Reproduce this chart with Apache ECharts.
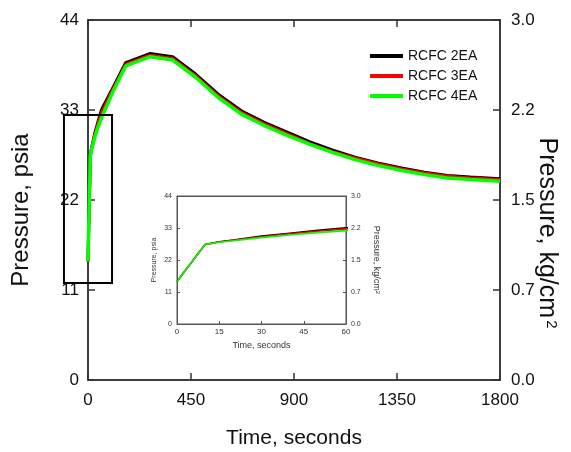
<!DOCTYPE html>
<html>
<head>
<meta charset="utf-8">
<script src="https://cdn.jsdelivr.net/npm/echarts@6/dist/echarts.min.js"></script>
<style>
html,body{margin:0;padding:0;background:#fff;}
#c{width:571px;height:452px;}
</style>
</head>
<body>
<div id="c"></div>
<script>
// ---- data ----
var time = [0, 2.5, 5, 7.5, 10, 15, 20, 30, 40, 50, 60, 110, 165, 270, 370, 470, 570, 670, 770, 870, 970, 1070, 1170, 1270, 1370, 1470, 1570, 1670, 1800];
var rcfc2 = [14.5, 17.9, 21.0, 24.2, 27.3, 28.3, 28.9, 30.2, 31.2, 32.2, 33.1, 35.8, 38.8, 39.9, 39.5, 37.4, 34.9, 32.9, 31.5, 30.3, 29.1, 28.1, 27.2, 26.5, 25.9, 25.4, 25.0, 24.8, 24.6];
var rcfc3 = [14.5, 17.9, 21.0, 24.2, 27.3, 28.2, 28.8, 30.0, 31.0, 31.9, 32.7, 35.6, 38.6, 39.7, 39.3, 37.2, 34.7, 32.7, 31.3, 30.1, 28.9, 27.9, 27.1, 26.4, 25.8, 25.3, 24.9, 24.7, 24.5];
var rcfc4 = [14.5, 17.9, 21.0, 24.2, 27.3, 28.1, 28.6, 29.7, 30.6, 31.4, 32.1, 35.3, 38.4, 39.5, 39.1, 37.0, 34.5, 32.5, 31.1, 29.9, 28.8, 27.8, 26.9, 26.2, 25.6, 25.1, 24.7, 24.5, 24.3];
var seriesNames = ['RCFC 2EA', 'RCFC 3EA', 'RCFC 4EA'];
var kgLabels = ['0.0', '0.7', '1.5', '2.2', '3.0'];
var psiTicks = [0, 11, 22, 33, 44];
// zoom box drawn around the start of the transient (data coords: time, psia)
var boxTime = [-105, 105];
var boxPsia = [11.85, 32.4];

function pairs(ys) { return time.map(function (t, i) { return [t, ys[i]]; }); }

var FONT = 'Liberation Sans, Arial, sans-serif';
var AX = '#333';
var colors = ['#000000', '#ff0000', '#00ff00'];
var widths = [3, 3, 3.5];
var data = [rcfc2, rcfc3, rcfc4];

function kgFmt(v) { var i = psiTicks.indexOf(v); return i >= 0 ? kgLabels[i] : ''; }
function plainFmt(v) { return String(v); }

var series = [];
for (var k = 0; k < 3; k++) {
  series.push({
    name: seriesNames[k], type: 'line', xAxisIndex: 0, yAxisIndex: 0,
    data: pairs(data[k]), showSymbol: false, symbol: 'none',
    lineStyle: { color: colors[k], width: widths[k] }, itemStyle: { color: colors[k] },
    z: 2 + k, animation: false
  });
}
for (var k2 = 0; k2 < 3; k2++) {
  series.push({
    name: seriesNames[k2], type: 'line', xAxisIndex: 2, yAxisIndex: 2,
    data: pairs(data[k2]), showSymbol: false, symbol: 'none', clip: true,
    lineStyle: { color: colors[k2], width: 1.6 }, itemStyle: { color: colors[k2] },
    z: 12 + k2, animation: false
  });
}

// inward ticks: negative length pointing into the plot
function tick(len, col, w) { return { show: true, inside: false, length: -len, lineStyle: { color: col || AX, width: w || 1.5 } }; }
function mainLine() { return { show: true, onZero: false, lineStyle: { color: AX, width: 1.5 } }; }
function insetLine() { return { show: true, onZero: false, lineStyle: { color: '#555', width: 1 } }; }
function mainLbl(m, f) { return { margin: m, formatter: f, fontFamily: FONT, fontSize: 17, color: '#111' }; }
function insetLbl(m, f, s) { return { margin: m, formatter: f, fontFamily: FONT, fontSize: s || 7, color: '#333' }; }

var option = {
  backgroundColor: '#fff',
  animation: false,
  legend: {
    data: seriesNames, orient: 'vertical', left: 365, top: 44,
    itemWidth: 33, itemHeight: 4, itemGap: 6, icon: 'rect',
    textStyle: { fontFamily: FONT, fontSize: 14, color: '#111' }
  },
  grid: [
    { left: 88, right: 71, top: 20, bottom: 72, show: true, borderColor: AX, borderWidth: 1.5, outerBoundsMode: 'none', containLabel: false },
    { left: 177, top: 196, width: 169, height: 128, show: true, borderColor: '#555', borderWidth: 1, backgroundColor: '#fff', outerBoundsMode: 'none', containLabel: false }
  ],
  xAxis: [
    { gridIndex: 0, type: 'value', min: 0, max: 1800, interval: 450, position: 'bottom',
      axisLine: mainLine(), axisTick: tick(7), splitLine: { show: false },
      axisLabel: mainLbl(12, plainFmt),
      name: 'Time, seconds', nameLocation: 'middle', nameGap: 48,
      nameTextStyle: { fontFamily: FONT, fontSize: 21, color: '#111' } },
    { gridIndex: 0, type: 'value', min: 0, max: 1800, interval: 450, position: 'top',
      axisLine: mainLine(), axisTick: tick(7), splitLine: { show: false }, axisLabel: { show: false } },
    { gridIndex: 1, type: 'value', min: 0, max: 60, interval: 15, position: 'bottom',
      axisLine: insetLine(), axisTick: tick(3, '#555', 1), splitLine: { show: false },
      axisLabel: insetLbl(4, plainFmt, 8),
      name: 'Time, seconds', nameLocation: 'middle', nameGap: 17,
      nameTextStyle: { fontFamily: FONT, fontSize: 9, color: '#333' } },
    { gridIndex: 1, type: 'value', min: 0, max: 60, interval: 15, position: 'top',
      axisLine: insetLine(), axisTick: { show: false }, splitLine: { show: false }, axisLabel: { show: false } }
  ],
  yAxis: [
    { gridIndex: 0, type: 'value', min: 0, max: 44, interval: 11, position: 'left',
      axisLine: mainLine(), axisTick: tick(7), splitLine: { show: false },
      axisLabel: mainLbl(9, plainFmt),
      name: 'Pressure, psia', nameLocation: 'middle', nameGap: 55, nameRotate: 90,
      nameTextStyle: { fontFamily: FONT, fontSize: 24, color: '#111', padding: [0, 20, 0, 0] } },
    { gridIndex: 0, type: 'value', min: 0, max: 44, interval: 11, position: 'right',
      axisLine: mainLine(), axisTick: tick(7), splitLine: { show: false },
      axisLabel: mainLbl(11, kgFmt),
      name: 'Pressure, kg/cm{sup|2}', nameLocation: 'middle', nameGap: 34, nameRotate: -90,
      nameMoveOverlap: false,
      nameTextStyle: { fontFamily: FONT, fontSize: 25, color: '#111', padding: [0, 0, 0, 66],
        rich: { sup: { fontFamily: FONT, fontSize: 15, color: '#111', verticalAlign: 'top', padding: [0, 0, 10, 2] } } } },
    { gridIndex: 1, type: 'value', min: 0, max: 44, interval: 11, position: 'left',
      axisLine: insetLine(), axisTick: tick(3, '#555', 1), splitLine: { show: false },
      axisLabel: insetLbl(5, plainFmt),
      name: 'Pressure, psia', nameLocation: 'middle', nameGap: 19, nameRotate: 90,
      nameTextStyle: { fontFamily: FONT, fontSize: 7, color: '#333' } },
    { gridIndex: 1, type: 'value', min: 0, max: 44, interval: 11, position: 'right',
      axisLine: insetLine(), axisTick: tick(3, '#555', 1), splitLine: { show: false },
      axisLabel: insetLbl(5, kgFmt),
      name: 'Pressure, kg/cm{sup|2}', nameLocation: 'middle', nameGap: 26, nameRotate: -90,
      nameTextStyle: { fontFamily: FONT, fontSize: 9, color: '#333',
        rich: { sup: { fontFamily: FONT, fontSize: 6, color: '#333', verticalAlign: 'top' } } } }
  ],
  series: series
};

var chart = echarts.init(document.getElementById('c'), null, { renderer: 'canvas' });
chart.setOption(option);

var pA = chart.convertToPixel({ xAxisIndex: 0, yAxisIndex: 0 }, [boxTime[0], boxPsia[1]]);
var pB = chart.convertToPixel({ xAxisIndex: 0, yAxisIndex: 0 }, [boxTime[1], boxPsia[0]]);
chart.setOption({
  graphic: [{
    type: 'rect', z: 50,
    shape: { x: pA[0], y: pA[1], width: pB[0] - pA[0], height: pB[1] - pA[1] },
    style: { fill: 'none', stroke: '#000', lineWidth: 2 }
  }]
});
</script>
</body>
</html>
